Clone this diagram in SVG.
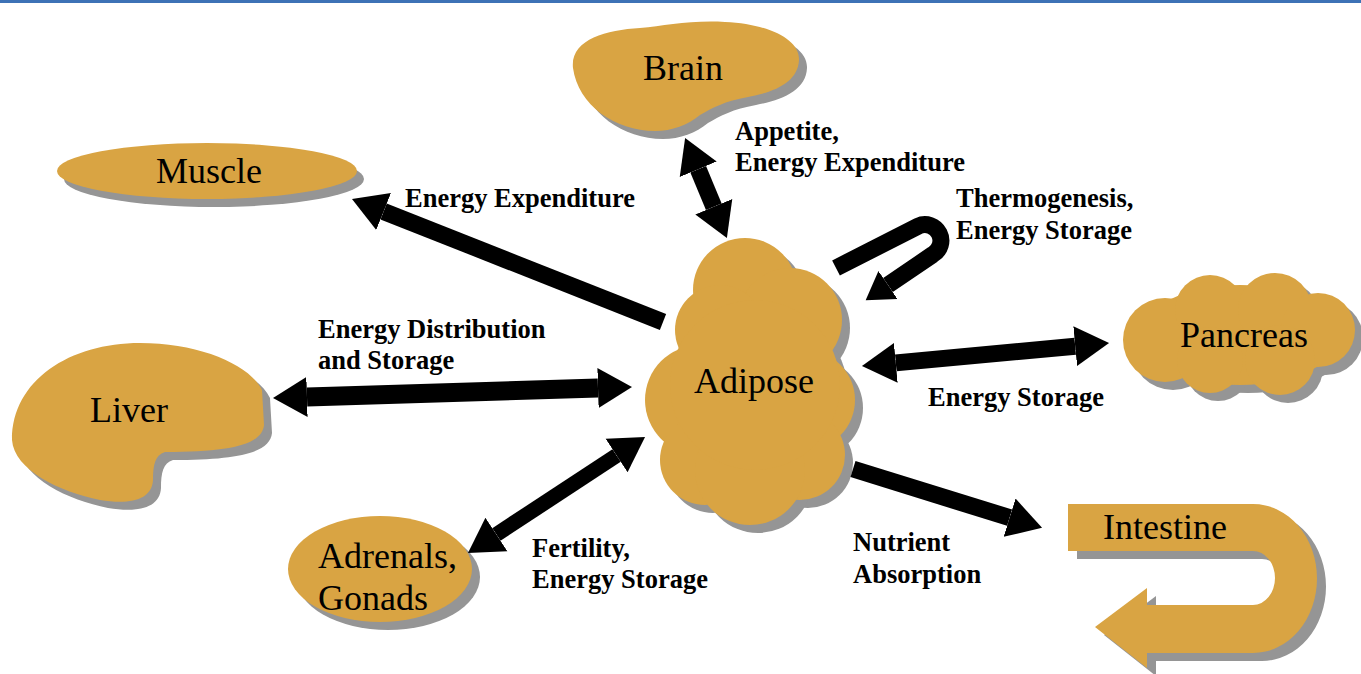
<svg xmlns="http://www.w3.org/2000/svg" width="1361" height="674" viewBox="0 0 1361 674">
<style>
.shadow{fill:#959595}
.fill{fill:#d9a443}
.lbl{font-family:"Liberation Serif","Times New Roman",serif;font-size:36px;fill:#000}
.ann{font-family:"Liberation Serif","Times New Roman",serif;font-size:26.5px;font-weight:bold;fill:#000}
.conn{fill:none;stroke:#000;stroke-width:17}
</style>
<defs>
<marker id="head" markerUnits="userSpaceOnUse" markerWidth="36" markerHeight="42" viewBox="0 -21 36 42" refX="0" refY="0" orient="auto-start-reverse"><path d="M0,-20 L34,0 L0,20 Z" fill="#000"/></marker>
<marker id="headS" markerUnits="userSpaceOnUse" markerWidth="30" markerHeight="36" viewBox="0 -18 30 36" refX="0" refY="0" orient="auto"><path d="M0,-17 L27,0 L0,17 Z" fill="#000"/></marker>
<path id="brainShape" d="M573,68 C570,40 605,30 640,28 C665,26 690,20 725,22 C770,24 800,40 799,60 C798,82 775,92 748,97 C725,101 712,108 700,115 C688,125 672,131 655,131 C615,131 578,105 573,68 Z"/>
<ellipse id="muscleShape" cx="207" cy="171" rx="150" ry="28"/>
<path id="liverShape" d="M12,440 C12,380 70,343 140,343 C200,343 250,365 262,390 L264,425 C262,445 230,452 165,452 C155,455 153,465 153,480 C152,500 130,505 100,500 C60,492 14,470 12,440 Z"/>
<ellipse id="adrShape" cx="380" cy="569" rx="92" ry="53"/>
<path id="intShape" d="M1068,504 L1253,504 A64 74.5 0 0 1 1253,653 L1147,653 L1147,668 L1095,627 L1147,588 L1147,605 L1253,605 A22 27 0 0 0 1253,551 L1068,551 Z"/>
<g id="adiShape">
<circle cx="745" cy="290" r="52"/><circle cx="790" cy="320" r="52"/><circle cx="720" cy="330" r="45"/>
<circle cx="700" cy="400" r="55"/><circle cx="805" cy="400" r="50"/><circle cx="705" cy="460" r="45"/>
<circle cx="800" cy="455" r="45"/><circle cx="750" cy="470" r="55"/><circle cx="755" cy="385" r="85"/>
</g>
<g id="panShape">
<ellipse cx="1240" cy="335" rx="100" ry="50"/>
<circle cx="1165" cy="340" r="42"/><circle cx="1210" cy="310" r="35"/><circle cx="1275" cy="310" r="37"/>
<circle cx="1318" cy="330" r="37"/><circle cx="1280" cy="360" r="35"/><circle cx="1210" cy="360" r="33"/>
</g>
</defs>
<rect x="0" y="0" width="1361" height="3" fill="#3d72b6"/>

<g id="brain">
<use href="#brainShape" class="shadow" transform="translate(8,8)"/>
<use href="#brainShape" class="fill"/>
<text class="lbl" x="683" y="80" text-anchor="middle">Brain</text>
</g>
<g id="muscle">
<use href="#muscleShape" class="shadow" transform="translate(7,8)"/>
<use href="#muscleShape" class="fill"/>
<text class="lbl" x="209" y="183" text-anchor="middle">Muscle</text>
</g>
<g id="liver">
<use href="#liverShape" class="shadow" transform="translate(8,8)"/>
<use href="#liverShape" class="fill"/>
<text class="lbl" x="129" y="422" text-anchor="middle">Liver</text>
</g>
<g id="adipose">
<use href="#adiShape" class="shadow" transform="translate(8,8)"/>
<use href="#adiShape" class="fill"/>
<text class="lbl" x="754" y="393" text-anchor="middle">Adipose</text>
</g>
<g id="pancreas">
<use href="#panShape" class="shadow" transform="translate(8,8)"/>
<use href="#panShape" class="fill"/>
<text class="lbl" x="1244" y="347" text-anchor="middle">Pancreas</text>
</g>
<g id="adrenals">
<use href="#adrShape" class="shadow" transform="translate(8,8)"/>
<use href="#adrShape" class="fill"/>
<text class="lbl" x="318" y="568">Adrenals,</text>
<text class="lbl" x="318" y="610">Gonads</text>
</g>
<g id="intestine">
<use href="#intShape" class="shadow" transform="translate(9,8)"/>
<use href="#intShape" class="fill"/>
<text class="lbl" x="1103" y="539">Intestine</text>
</g>

<g id="connectors">
<path class="conn" d="M663,322 L383.6,211.5" marker-end="url(#head)"/>
<path class="conn" d="M698.2,169.3 L713.8,206.7" marker-start="url(#head)" marker-end="url(#head)"/>
<path class="conn" style="stroke-width:19" d="M307,397 L598,388" marker-start="url(#head)" marker-end="url(#head)"/>
<path class="conn" style="stroke-width:15" d="M496.4,534.4 L616.6,455.6" marker-start="url(#head)" marker-end="url(#head)"/>
<path class="conn" d="M895.8,362.9 L1075.2,346.2" marker-start="url(#head)" marker-end="url(#head)"/>
<path class="conn" d="M853,469 L1009.6,517.7" marker-end="url(#head)"/>
<path class="conn" d="M836,268 L918.2,226.1 A16 16 0 0 1 932.7,254.6 L888,285" marker-end="url(#headS)"/>
</g>

<g id="labels">
<text class="ann" x="735" y="140">Appetite,</text>
<text class="ann" x="735" y="171">Energy Expenditure</text>
<text class="ann" x="405" y="207">Energy Expenditure</text>
<text class="ann" x="956" y="207">Thermogenesis,</text>
<text class="ann" x="956" y="239">Energy Storage</text>
<text class="ann" x="318" y="338">Energy Distribution</text>
<text class="ann" x="318" y="369">and Storage</text>
<text class="ann" x="928" y="406">Energy Storage</text>
<text class="ann" x="532" y="557">Fertility,</text>
<text class="ann" x="532" y="588">Energy Storage</text>
<text class="ann" x="853" y="551">Nutrient</text>
<text class="ann" x="853" y="583">Absorption</text>
</g>
</svg>
